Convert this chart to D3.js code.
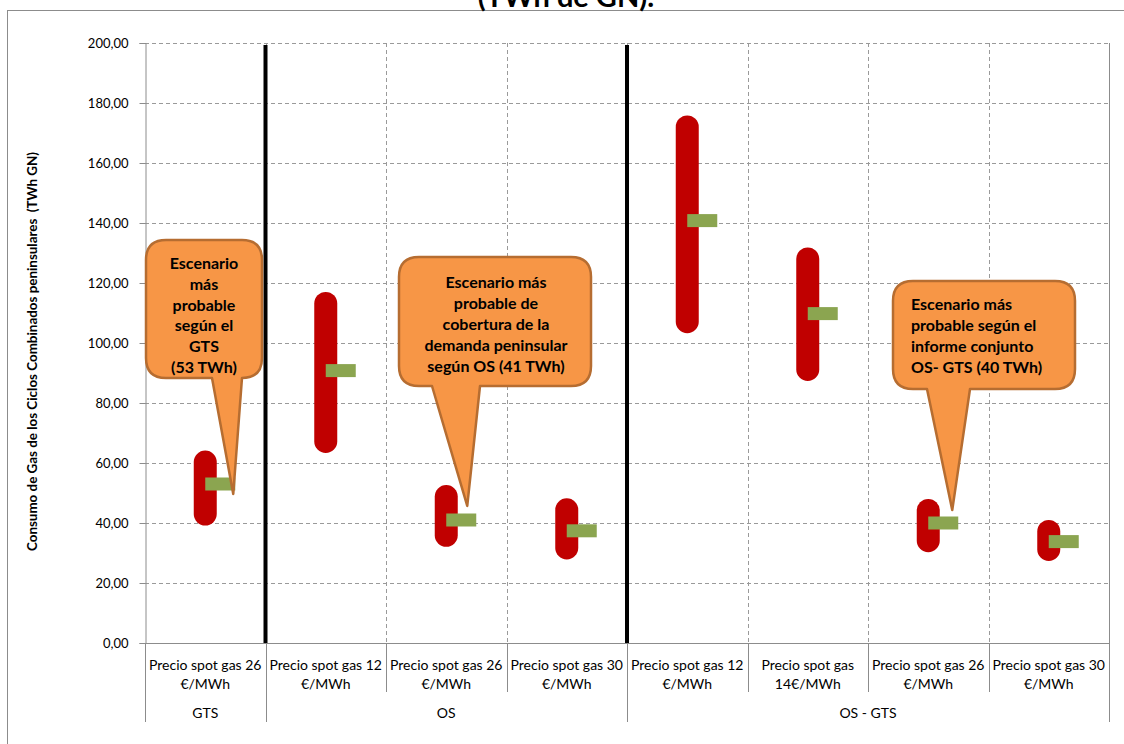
<!DOCTYPE html>
<html>
<head>
<meta charset="utf-8">
<script src="https://cdn.jsdelivr.net/npm/d3@7"></script>
<style>
  body { margin: 0; background: #fff; }
  svg { display: block; font-family: Lato, "Open Sans", "Liberation Sans", sans-serif; }
</style>
</head>
<body>
<svg id="chart" width="1124" height="744"></svg>
<script>
// ---- Data ----------------------------------------------------------
const catLine1 = ["Precio spot gas 26", "Precio spot gas 12", "Precio spot gas 26", "Precio spot gas 30",
                  "Precio spot gas 12", "Precio spot gas", "Precio spot gas 26", "Precio spot gas 30"];
const catLine2 = ["€/MWh", "€/MWh", "€/MWh", "€/MWh", "€/MWh", "14€/MWh", "€/MWh", "€/MWh"];
const groupNames = ["GTS", "OS", "OS - GTS"];
const groupFirst = [0, 1, 4];
const groupLast  = [0, 3, 7];

// Consumption range (TWh GN) per scenario and most likely value
const rangeHigh = [60.3, 113.2, 48.8, 44.4, 172.0, 128.0, 44.2, 37.2];
const rangeLow  = [43.0, 67.2, 35.9, 31.7, 107.1, 91.2, 34.1, 31.2];
const likely    = [53, 90.8, 41, 37.4, 140.8, 109.8, 40, 33.8];

const yTicks = [0, 20, 40, 60, 80, 100, 120, 140, 160, 180, 200];
const separatorsBefore = [1, 4];   // thick dividers between source groups
const separatorTop = 199.3;

const calloutLines = [
  ["Escenario", "más", "probable", "según el", "GTS", "(53 TWh)"],
  ["Escenario más", "probable de", "cobertura de la", "demanda peninsular", "según OS (41 TWh)"],
  ["Escenario más", "probable según el", "informe conjunto", "OS- GTS (40 TWh)"]
];
const calloutCategory = [0, 2, 6];
const calloutTipValue = [49.7, 45.7, 44.3];

// ---- Layout --------------------------------------------------------
const svg = d3.select("#chart");
const plot = { left: 145, right: 1109, top: 43, bottom: 643 };

const x = d3.scaleBand().domain(d3.range(catLine1.length)).range([plot.left, plot.right]).padding(0);
const y = d3.scaleLinear().domain([0, 200]).range([plot.bottom, plot.top]);
const bw = x.bandwidth();
const cx = i => x(i) + bw / 2;

const fmt = d => d.toFixed(2).replace(".", ",");

// Outer chart frame
svg.append("rect").attr("x", 7.5).attr("y", 10.5).attr("width", 1140).attr("height", 760)
  .attr("fill", "none").attr("stroke", "#8c8c8c").attr("stroke-width", 1);

// Title (runs above the frame)
svg.append("text").attr("x", 566).attr("y", 7).attr("text-anchor", "middle")
  .attr("font-size", 29).attr("font-weight", "bold").attr("fill", "#000")
  .text("(TWh de GN).");

// Horizontal gridlines
svg.append("g").selectAll("line").data(yTicks.filter(d => d > 0)).join("line")
  .attr("x1", plot.left).attr("x2", plot.right)
  .attr("y1", d => Math.round(y(d)) + 0.5).attr("y2", d => Math.round(y(d)) + 0.5)
  .attr("stroke", "#9a9a9a").attr("stroke-dasharray", "4,3").attr("stroke-width", 1);

// Vertical gridlines at category boundaries
svg.append("g").selectAll("line").data(d3.range(1, catLine1.length)).join("line")
  .attr("x1", d => Math.round(x(d)) + 0.5).attr("x2", d => Math.round(x(d)) + 0.5)
  .attr("y1", plot.top).attr("y2", plot.bottom)
  .attr("stroke", "#9a9a9a").attr("stroke-dasharray", "4,3").attr("stroke-width", 1);

// Right plot border
svg.append("line").attr("x1", plot.right + 0.5).attr("x2", plot.right + 0.5)
  .attr("y1", plot.top).attr("y2", 722).attr("stroke", "#8c8c8c");

// Y axis
const yAxis = d3.axisLeft(y).tickValues(yTicks).tickFormat(fmt).tickSize(6).tickPadding(11);
const gy = svg.append("g").attr("transform", `translate(${plot.left + 0.5},0)`).call(yAxis);
gy.select(".domain").attr("stroke", "#8c8c8c");
gy.selectAll(".tick line").attr("stroke", "#8c8c8c");
gy.selectAll(".tick text").attr("font-size", 13).attr("fill", "#000")
  .attr("font-family", "Lato, 'Open Sans', sans-serif");

// Category axis baseline
svg.append("line").attr("x1", plot.left).attr("x2", plot.right)
  .attr("y1", plot.bottom + 0.5).attr("y2", plot.bottom + 0.5).attr("stroke", "#8c8c8c");

// Category tick lines (short) and group dividers (long)
const groupEdges = new Set([0, ...groupFirst, catLine1.length]);
svg.append("g").selectAll("line").data(d3.range(0, catLine1.length + 1)).join("line")
  .attr("x1", d => Math.round(d < catLine1.length ? x(d) : plot.right) + 0.5)
  .attr("x2", d => Math.round(d < catLine1.length ? x(d) : plot.right) + 0.5)
  .attr("y1", plot.bottom)
  .attr("y2", d => groupEdges.has(d) ? 722 : 692)
  .attr("stroke", "#8c8c8c");

// Category labels
const catLabels = svg.append("g").attr("font-size", 14).attr("fill", "#000").attr("text-anchor", "middle");
catLabels.selectAll("text.l1").data(catLine1).join("text").attr("class", "l1")
  .attr("x", (d, i) => cx(i)).attr("y", 670).text(d => d);
catLabels.selectAll("text.l2").data(catLine2).join("text").attr("class", "l2")
  .attr("x", (d, i) => cx(i)).attr("y", 688.5).text(d => d);

// Group labels
svg.append("g").attr("font-size", 14).attr("fill", "#000").attr("text-anchor", "middle")
  .selectAll("text").data(groupNames).join("text")
  .attr("x", (d, i) => (x(groupFirst[i]) + x(groupLast[i]) + bw) / 2)
  .attr("y", 717.5).text(d => d);

// Y axis title
svg.append("text")
  .attr("transform", `translate(37,351.5) rotate(-90)`)
  .attr("text-anchor", "middle").attr("font-size", 13.4).attr("font-weight", "bold").attr("fill", "#000")
  .attr("xml:space", "preserve")
  .text("Consumo de Gas de los Ciclos Combinados peninsulares  (TWh GN)");

// Thick group dividers
svg.append("g").selectAll("line").data(separatorsBefore).join("line")
  .attr("x1", d => x(d)).attr("x2", d => x(d))
  .attr("y1", y(separatorTop)).attr("y2", y(0))
  .attr("stroke", "#000").attr("stroke-width", 4);

// Ranges (low–high)
svg.append("g").selectAll("line").data(d3.range(catLine1.length)).join("line")
  .attr("x1", i => cx(i)).attr("x2", i => cx(i))
  .attr("y1", i => y(rangeHigh[i])).attr("y2", i => y(rangeLow[i]))
  .attr("stroke", "#c00000").attr("stroke-width", 23).attr("stroke-linecap", "round");

// Most likely value markers
svg.append("g").selectAll("rect").data(d3.range(catLine1.length)).join("rect")
  .attr("x", i => cx(i)).attr("y", i => y(likely[i]) - 6.5)
  .attr("width", 30).attr("height", 13)
  .attr("fill", "#8ba550");

// Callouts
const calloutBoxes = [
  { x0: 146, x1: 262, y0: 240, y1: 378, b0: 212, b1: 242, tipDx: 28, align: "middle", tx: 204, ty: 269, lh: 20.8 },
  { x0: 399, x1: 591, y0: 257, y1: 386, b0: 432, b1: 480, tipDx: 21, align: "middle", tx: 496, ty: 287.5, lh: 21 },
  { x0: 893, x1: 1075, y0: 281, y1: 389, b0: 927, b1: 970, tipDx: 24, align: "start", tx: 911, ty: 310, lh: 21 }
];

function calloutPath(b, tx, ty) {
  const r = 20;
  const p = d3.path();
  p.moveTo(b.x0 + r, b.y0);
  p.lineTo(b.x1 - r, b.y0);
  p.quadraticCurveTo(b.x1, b.y0, b.x1, b.y0 + r);
  p.lineTo(b.x1, b.y1 - r);
  p.quadraticCurveTo(b.x1, b.y1, b.x1 - r, b.y1);
  p.lineTo(b.b1, b.y1);
  p.lineTo(tx, ty);
  p.lineTo(b.b0, b.y1);
  p.lineTo(b.x0 + r, b.y1);
  p.quadraticCurveTo(b.x0, b.y1, b.x0, b.y1 - r);
  p.lineTo(b.x0, b.y0 + r);
  p.quadraticCurveTo(b.x0, b.y0, b.x0 + r, b.y0);
  p.closePath();
  return p.toString();
}

calloutBoxes.forEach((b, k) => {
  const g = svg.append("g");
  const tipX = cx(calloutCategory[k]) + b.tipDx;
  const tipY = y(calloutTipValue[k]);
  g.append("path").attr("d", calloutPath(b, tipX, tipY))
    .attr("fill", "#f79646").attr("stroke", "#b66d31").attr("stroke-width", 2.5)
    .attr("stroke-linejoin", "round");
  g.append("g").attr("font-size", 16).attr("font-weight", "bold").attr("fill", "#000")
    .attr("text-anchor", b.align)
    .selectAll("text").data(calloutLines[k]).join("text")
    .attr("x", b.tx).attr("y", (d, i) => b.ty + i * b.lh).text(d => d);
});
</script>
</body>
</html>
